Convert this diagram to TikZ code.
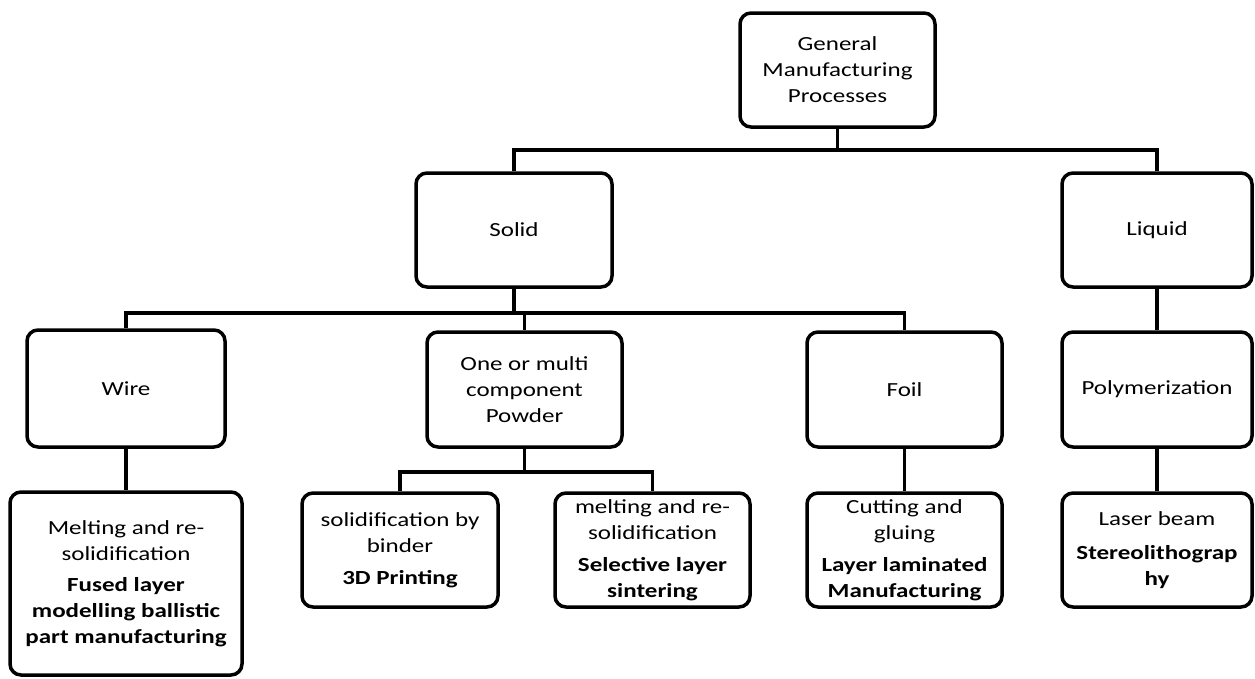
\documentclass[tikz,border=0pt]{standalone}
\usepackage{fontspec}
\setmainfont{Carlito}[FakeStretch=1.25]
\begin{document}
\begin{tikzpicture}[x=1pt,y=-1pt,
  box/.style={draw=black, line width=3.5pt, rounded corners=11pt, fill=white,
    align=center, inner sep=0pt, font=\fontsize{20}{26}\selectfont},
  conn/.style={draw=black, line width=3.5pt}]
\fill[white] (0,0) rectangle (1255,678);
\useasboundingbox (0,0) rectangle (1255,678);
% level 0
\node[box, minimum width=195pt, minimum height=114pt] (gmp) at (837.5,70) {General\\Manufacturing\\Processes};
% level 1
\node[box, minimum width=196pt, minimum height=114pt] (solid) at (514,230) {Solid};
\node[box, minimum width=190pt, minimum height=114pt] (liquid) at (1157,230) {Liquid};
% level 2
\node[box, minimum width=198pt, minimum height=117pt] (wire) at (126,388.5) {Wire};
\node[box, minimum width=195pt, minimum height=115pt] (powder) at (524.5,389.5) {One or multi\\component\\Powder};
\node[box, minimum width=195pt, minimum height=115pt] (foil) at (904.5,389.5) {Foil};
\node[box, minimum width=190pt, minimum height=115pt] (poly) at (1157,389.5) {Polymerization};
% level 3
\node[box, minimum width=232pt, minimum height=183pt] (wireleaf) at (126,583.5)
  {Melting and re-\\solidification\\[5pt]\textbf{Fused layer}\\\textbf{modelling ballistic}\\\textbf{part manufacturing}};
\node[box, minimum width=196pt, minimum height=114pt] (binder) at (400,550)
  {solidification by\\binder\\[6pt]\textbf{3D Printing}};
\node[box, minimum width=195pt, minimum height=114pt] (melting) at (652.5,550)
  {melting and re-\\solidification\\[6pt]\textbf{Selective layer}\\\textbf{sintering}};
\node[box, minimum width=195pt, minimum height=114pt] (cutting) at (904.5,550)
  {Cutting and\\gluing\\[6pt]\textbf{Layer laminated}\\\textbf{Manufacturing}};
\node[box, minimum width=190pt, minimum height=114pt] (laser) at (1157,550)
  {Laser beam\\[8pt]\textbf{Stereolithograp}\\\textbf{hy}};
% connectors
\draw[conn] (gmp.south) -- ++(0,21) -| (solid.north);
\draw[conn] (gmp.south) ++(0,21) -| (liquid.north);
\draw[conn] (solid.south) -- ++(0,24) -| (wire.north);
\draw[conn] (solid.south) ++(0,24) -| (powder.north);
\draw[conn] (solid.south) ++(0,24) -| (foil.north);
\draw[conn] (liquid.south) -- (poly.north);
\draw[conn] (wire.south) -- (wireleaf.north);
\draw[conn] (powder.south) -- ++(0,23) -| (binder.north);
\draw[conn] (powder.south) ++(0,23) -| (melting.north);
\draw[conn] (foil.south) -- (cutting.north);
\draw[conn] (poly.south) -- (laser.north);
\end{tikzpicture}
\end{document}
